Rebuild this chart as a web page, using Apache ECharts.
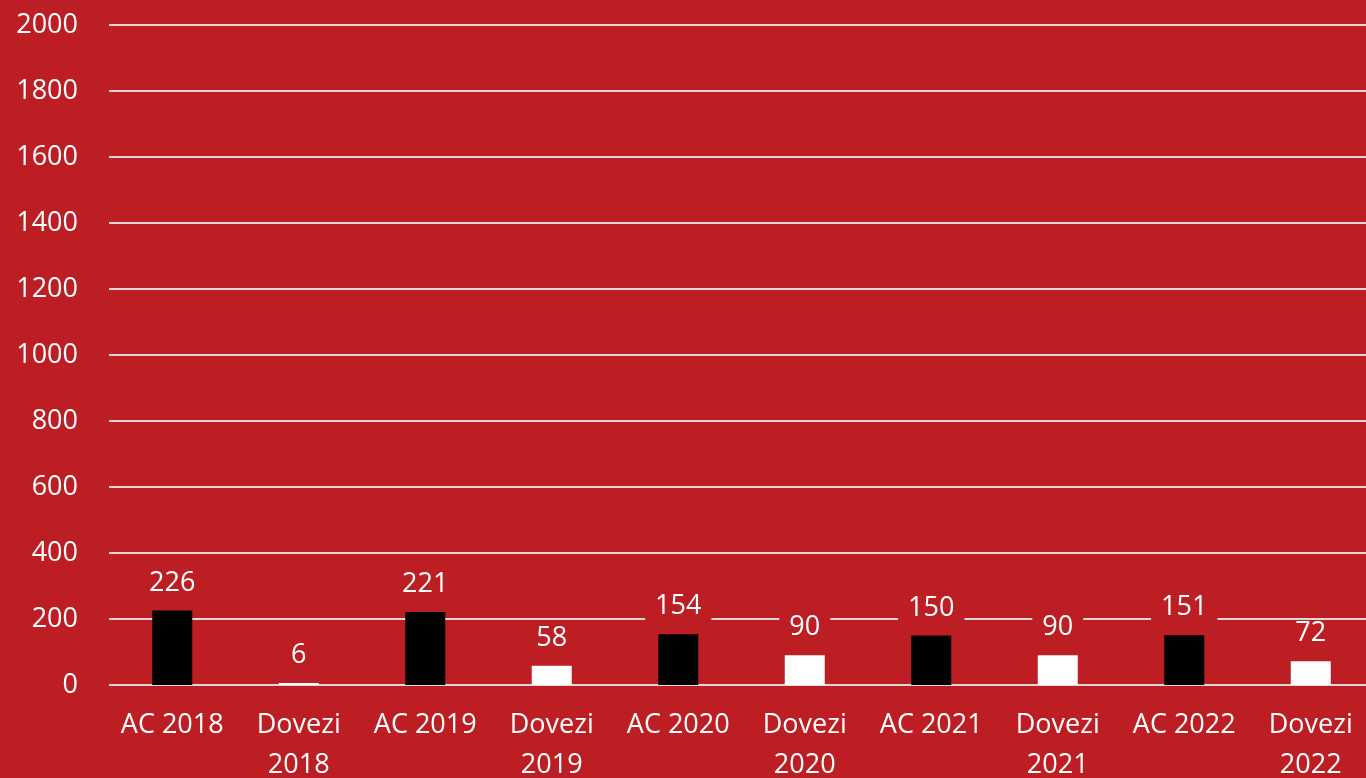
<!DOCTYPE html>
<html>
<head>
<meta charset="utf-8">
<script src="https://cdn.jsdelivr.net/npm/echarts@6/dist/echarts.min.js"></script>
<style>
  html, body { margin: 0; padding: 0; background: #BC1E24; }
  #charts { width: 1366px; height: 778px; }
</style>
</head>
<body>
<div id="charts"></div>
<script>
var categories = ['AC 2018', 'Dovezi\n2018', 'AC 2019', 'Dovezi\n2019', 'AC 2020', 'Dovezi\n2020', 'AC 2021', 'Dovezi\n2021', 'AC 2022', 'Dovezi\n2022'];
var values = [226, 6, 221, 58, 154, 90, 150, 90, 151, 72];
var barColors = ['#000000', '#FFFFFF', '#000000', '#FFFFFF', '#000000', '#FFFFFF', '#000000', '#FFFFFF', '#000000', '#FFFFFF'];

var red = '#BC1E24';
var font = 'Open Sans, Noto Sans, sans-serif';

var myChart = echarts.init(document.getElementById('charts'));
var option = {
    backgroundColor: red,
    animation: false,
    grid: {
        left: 109,
        right: -8,
        top: 25,
        bottom: 93,
        outerBoundsMode: 'none'
    },
    xAxis: {
        type: 'category',
        data: categories,
        axisLine: { show: false },
        axisTick: { show: false },
        axisLabel: {
            color: '#FFFFFF',
            fontSize: 27,
            fontFamily: font,
            lineHeight: 40,
            margin: 20,
            interval: 0
        }
    },
    yAxis: {
        type: 'value',
        min: 0,
        max: 2000,
        interval: 200,
        axisLine: { show: false },
        axisTick: { show: false },
        axisLabel: {
            color: '#FFFFFF',
            fontSize: 27,
            fontFamily: font,
            margin: 31,
            formatter: function (v) { return String(v); }
        },
        splitLine: {
            lineStyle: { color: '#D9D9D9', width: 2 }
        }
    },
    series: [{
        type: 'bar',
        barWidth: 40,
        data: values.map(function (v, i) {
            return { value: v, itemStyle: { color: barColors[i] } };
        }),
        label: {
            show: true,
            position: 'top',
            distance: 14,
            color: '#FFFFFF',
            fontSize: 27,
            fontFamily: font,
            backgroundColor: red,
            padding: [0, 10]
        }
    }]
};

myChart.setOption(option);
</script>
</body>
</html>
